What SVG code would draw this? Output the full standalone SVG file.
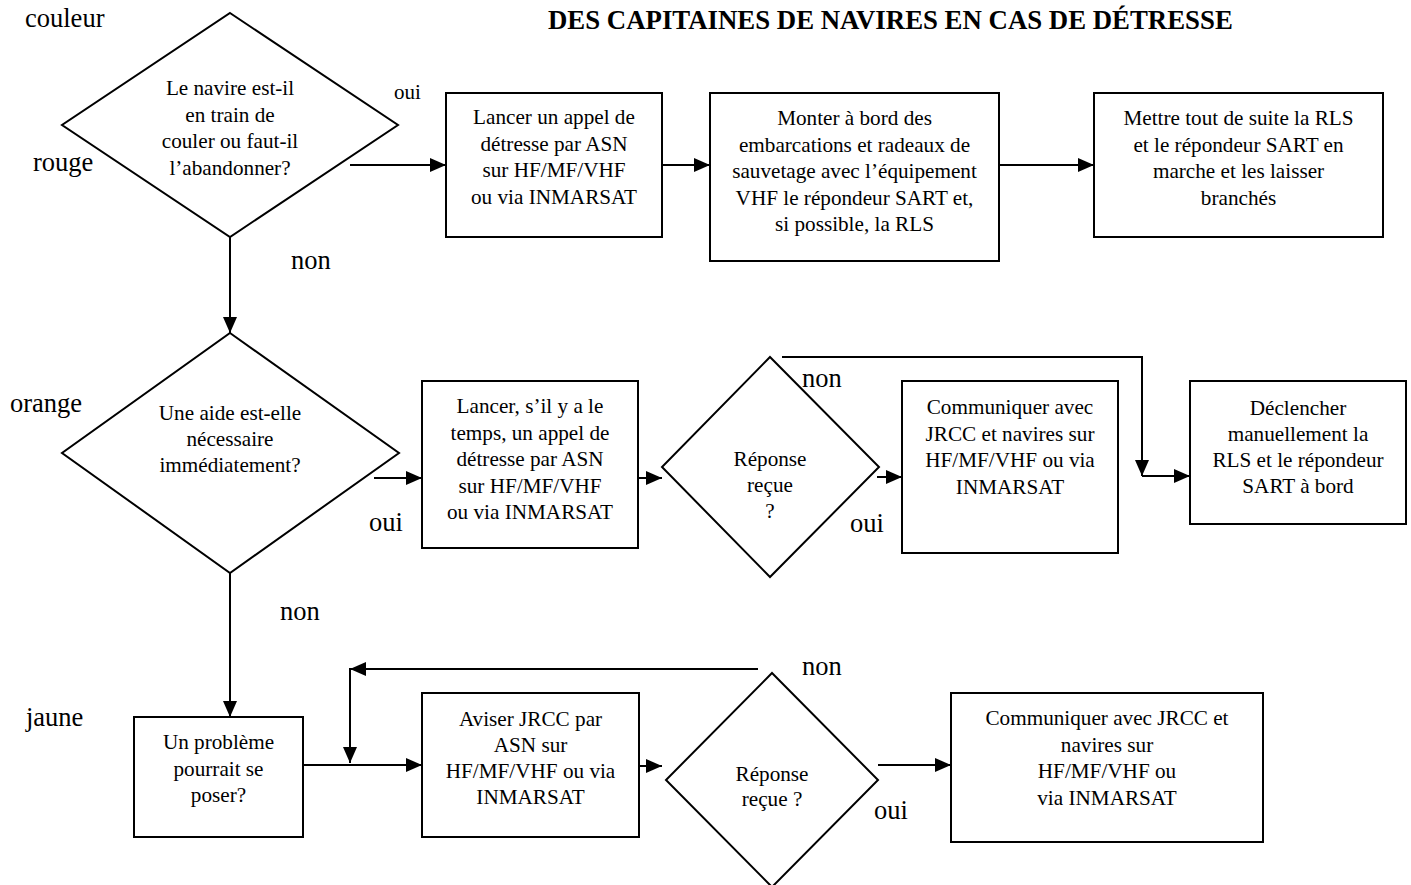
<svg xmlns="http://www.w3.org/2000/svg" width="1411" height="885" viewBox="0 0 1411 885">
<defs>
<style>
.shape{fill:#fff;stroke:#000;stroke-width:2}
.t{font-family:"Liberation Serif","Times New Roman",serif;font-size:21.2px;fill:#000;text-anchor:middle}
.lbl{font-family:"Liberation Serif","Times New Roman",serif;font-size:26.5px;fill:#000}
.title{font-family:"Liberation Serif","Times New Roman",serif;font-size:26.8px;font-weight:bold;fill:#000}
.c{fill:none;stroke:#000;stroke-width:2}
</style>
<marker id="ah" markerUnits="userSpaceOnUse" markerWidth="16" markerHeight="14" refX="16" refY="7" orient="auto">
<path d="M0,0 L16,7 L0,14 z" fill="#000"/>
</marker>
</defs>
<rect width="1411" height="885" fill="#fff"/>

<text class="title" x="548" y="29">DES CAPITAINES DE NAVIRES EN CAS DE DÉTRESSE</text>

<g id="labels">
<text class="lbl" x="25" y="27">couleur</text>
<text class="lbl" x="33" y="171">rouge</text>
<text class="lbl" x="10" y="412">orange</text>
<text class="lbl" x="26" y="726">jaune</text>
<text class="lbl" x="394" y="99" style="font-size:21px">oui</text>
<text class="lbl" x="291" y="269">non</text>
<text class="lbl" x="369" y="531">oui</text>
<text class="lbl" x="280" y="620">non</text>
<text class="lbl" x="802" y="387">non</text>
<text class="lbl" x="850" y="532">oui</text>
<text class="lbl" x="802" y="675">non</text>
<text class="lbl" x="874" y="819">oui</text>
</g>

<g id="connectors">
<line class="c" x1="350" y1="165" x2="446" y2="165" marker-end="url(#ah)"/>
<line class="c" x1="662" y1="165" x2="710" y2="165" marker-end="url(#ah)"/>
<line class="c" x1="999" y1="165" x2="1094" y2="165" marker-end="url(#ah)"/>
<line class="c" x1="230" y1="237" x2="230" y2="333" marker-end="url(#ah)"/>
<line class="c" x1="374" y1="478" x2="422" y2="478" marker-end="url(#ah)"/>
<line class="c" x1="638" y1="478" x2="662" y2="478" marker-end="url(#ah)"/>
<line class="c" x1="877" y1="477" x2="902" y2="477" marker-end="url(#ah)"/>
<polyline class="c" points="782,357 1142,357 1142,476" marker-end="url(#ah)"/>
<line class="c" x1="1142" y1="476" x2="1190" y2="476" marker-end="url(#ah)"/>
<line class="c" x1="230" y1="573" x2="230" y2="717" marker-end="url(#ah)"/>
<line class="c" x1="303" y1="765" x2="422" y2="765" marker-end="url(#ah)"/>
<line class="c" x1="758" y1="669" x2="350" y2="669" marker-end="url(#ah)"/>
<line class="c" x1="350" y1="668" x2="350" y2="763" marker-end="url(#ah)"/>
<line class="c" x1="638" y1="766" x2="662" y2="766" marker-end="url(#ah)"/>
<line class="c" x1="878" y1="765" x2="951" y2="765" marker-end="url(#ah)"/>
</g>

<g id="d1">
<polygon class="shape" points="230,13 398,125 230,237 62,125"/>
<text class="t" x="230" y="95">Le navire est-il</text>
<text class="t" x="230" y="121.5">en train de</text>
<text class="t" x="230" y="148">couler ou faut-il</text>
<text class="t" x="230" y="174.5">l’abandonner?</text>
</g>

<g id="b1">
<rect class="shape" x="446" y="93" width="216" height="144"/>
<text class="t" x="554" y="124">Lancer un appel de</text>
<text class="t" x="554" y="150.5">détresse par ASN</text>
<text class="t" x="554" y="177">sur HF/MF/VHF</text>
<text class="t" x="554" y="203.5">ou via INMARSAT</text>
</g>

<g id="b2">
<rect class="shape" x="710" y="93" width="289" height="168"/>
<text class="t" x="854.5" y="125">Monter à bord des</text>
<text class="t" x="854.5" y="151.5">embarcations et radeaux de</text>
<text class="t" x="854.5" y="178">sauvetage avec l’équipement</text>
<text class="t" x="854.5" y="204.5">VHF le répondeur SART et,</text>
<text class="t" x="854.5" y="231">si possible, la RLS</text>
</g>

<g id="b3">
<rect class="shape" x="1094" y="93" width="289" height="144"/>
<text class="t" x="1238.5" y="125">Mettre tout de suite la RLS</text>
<text class="t" x="1238.5" y="151.5">et le répondeur SART en</text>
<text class="t" x="1238.5" y="178">marche et les laisser</text>
<text class="t" x="1238.5" y="204.5">branchés</text>
</g>

<g id="d2">
<polygon class="shape" points="230,333 399,453 230,573 62,453"/>
<text class="t" x="230" y="420">Une aide est-elle</text>
<text class="t" x="230" y="446">nécessaire</text>
<text class="t" x="230" y="472">immédiatement?</text>
</g>

<g id="b4">
<rect class="shape" x="422" y="381" width="216" height="167"/>
<text class="t" x="530" y="413">Lancer, s’il y a le</text>
<text class="t" x="530" y="439.5">temps, un appel de</text>
<text class="t" x="530" y="466">détresse par ASN</text>
<text class="t" x="530" y="492.5">sur HF/MF/VHF</text>
<text class="t" x="530" y="519">ou via INMARSAT</text>
</g>

<g id="d3">
<polygon class="shape" points="770,357 879,467 770,577 662,467"/>
<text class="t" x="770" y="466">Réponse</text>
<text class="t" x="770" y="492">reçue</text>
<text class="t" x="770" y="518">?</text>
</g>

<g id="b5">
<rect class="shape" x="902" y="381" width="216" height="172"/>
<text class="t" x="1010" y="414">Communiquer avec</text>
<text class="t" x="1010" y="440.5">JRCC et navires sur</text>
<text class="t" x="1010" y="467">HF/MF/VHF ou via</text>
<text class="t" x="1010" y="493.5">INMARSAT</text>
</g>

<g id="b6">
<rect class="shape" x="1190" y="381" width="216" height="143"/>
<text class="t" x="1298" y="415">Déclencher</text>
<text class="t" x="1298" y="441">manuellement la</text>
<text class="t" x="1298" y="467">RLS et le répondeur</text>
<text class="t" x="1298" y="493">SART à bord</text>
</g>

<g id="b7">
<rect class="shape" x="134" y="717" width="169" height="120"/>
<text class="t" x="218.5" y="749">Un problème</text>
<text class="t" x="218.5" y="775.5">pourrait se</text>
<text class="t" x="218.5" y="802">poser?</text>
</g>

<g id="b8">
<rect class="shape" x="422" y="693" width="217" height="144"/>
<text class="t" x="530.5" y="725.5">Aviser JRCC par</text>
<text class="t" x="530.5" y="751.5">ASN sur</text>
<text class="t" x="530.5" y="777.5">HF/MF/VHF ou via</text>
<text class="t" x="530.5" y="803.5">INMARSAT</text>
</g>

<g id="d4">
<polygon class="shape" points="772,673 878,780 772,887 666,780"/>
<text class="t" x="772" y="781">Réponse</text>
<text class="t" x="772" y="806">reçue ?</text>
</g>

<g id="b9">
<rect class="shape" x="951" y="693" width="312" height="149"/>
<text class="t" x="1107" y="725">Communiquer avec JRCC et</text>
<text class="t" x="1107" y="751.5">navires sur</text>
<text class="t" x="1107" y="778">HF/MF/VHF ou</text>
<text class="t" x="1107" y="804.5">via INMARSAT</text>
</g>
</svg>
